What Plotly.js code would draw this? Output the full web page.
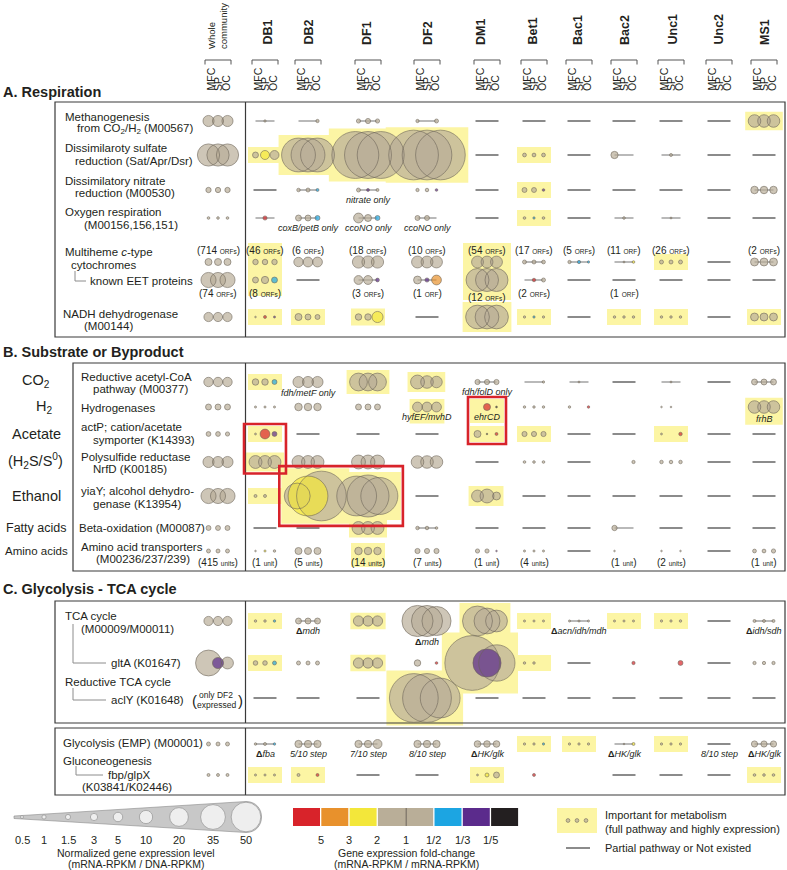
<!DOCTYPE html>
<html><head><meta charset="utf-8">
<script src="https://cdn.plot.ly/plotly-3.0.1.min.js"></script>
<style>html,body{margin:0;padding:0;background:#fff}</style>
</head><body><div id="chart" style="width:787px;height:870px"></div>
<script>
// ================= DATA =================
const groups = ['Whole community','DB1','DB2','DF1','DF2','DM1','Bet1','Bac1','Bac2','Unc1','Unc2','MS1'];
const samples = ['MFC','SP','OC'];
const G = 'ggg';
// values = normalized expression level (mRNA-RPKM / DNA-RPKM) for MFC, SP, OC
// colors: g=1 (no change), y=2, o=3, r=5, c=1/2, p=1/3, k=1/5
// kind: d=dots, c=dots on partial-pathway line, l=partial pathway / not existed, .=blank
// hl: 1=important (yellow), b=important incl. label below, s=important spanning next row
const methV=[[7,7,7],[0,0.3,0],[0,0,0.6],[1,1.5,1],[0.6,0,0.9],[0,0,0],[0,0,0],[0,0,0],[0,0,0],[0,0,0],[0,0,0],[9,9,9]];
const methC=[G,G,G,G,G,G,G,G,G,G,G,G];
const methK='dcccclllllld', methH='000000000001';

const sulfV=[[28,28,28],[2,4.6,4.6],[65,65,65],[125,125,125],[140,140,140],[0,0,0],[0.8,0.8,0.8],[0,0,0],[3,0,0],[0,0.5,0],[0,0,0],[0,0,0]];
const sulfC=[G,'gyg',G,G,G,G,G,G,G,G,G,G];
const sulfK='dddddldlccll', sulfH='011110100000';

const nitrV=[[1.6,1.6,1.6],[0,0,0],[0.7,0.9,0.5],[0.9,0.5,0.5],[0.6,0.7,0.4],[0,0,0],[1.4,1.4,0.4],[0,0,0],[0,0,0],[0,0,0],[0,0,0],[3.2,3.2,3.2]];
const nitrC=[G,G,'ggc','gpg','ggp',G,'ggp',G,G,G,G,G];
const nitrK='dlccdldllllc', nitrH='000000100000';
const nitrN=['','','','nitrate only','','','','','','','',''];

const oxyV=[[0.4,0.4,0.4],[0,1,0],[2,2,1.4],[5.5,2.8,1.4],[1.4,1.4,0],[0,0,0],[0.4,0.3,0.4],[0,0,0],[0,0.4,0],[0,0.2,0],[0,0,0],[0,0,0]];
const oxyC=[G,'grg','ggc','ggc',G,G,'gcg',G,G,G,G,G];
const oxyK='dccccldlccll', oxyH='000000100000';
const oxyN=['','','coxB/petB only','ccoNO only','ccoNO only','','','','','','',''];

const mhV=[[2.8,2.8,2.8],[1.7,1.7,1.7],[5,5.5,5.5],[8.5,8.5,8.5],[8,8,8],[8,8,8],[0.9,0.9,0.8],[0.6,0.6,0.3],[0,0.2,0.4],[0.9,0.9,0.9],[0,0,0],[3.6,3.6,3.6]];
const mhC=[G,G,G,G,G,G,G,'gcc','ggy',G,G,G];
const mhK='ddddddcccdlc', mhH='0s000s000100';
const mhOrfs=[714,46,6,18,10,54,17,5,11,26,null,2];
const mhOrfUnit=['ORFs','ORFs','ORFs','ORFs','ORFs','ORFs','ORFs','ORFs','ORF','ORFs','','ORFs'];

const eetV=[[13,13,13],[2,3,2],[0,0,0],[4.5,4.5,0.8],[3.5,1,5.5],[30,30,30],[0,0.7,0.9],[0,0,0],[0,0,0],[0,0,0],[0,0,0],[0,0,0]];
const eetC=[G,'ggc',G,'ggp','gpo',G,'grg',G,G,G,G,G];
const eetK='ddlccdclllll', eetH='000000000000';
const eetOrfs=[74,8,null,3,1,12,2,null,1,null,null,null];
const eetOrfUnit=['ORFs','ORFs','','ORFs','ORF','ORFs','ORFs','','ORF','','',''];

const nadhV=[[4.8,4.8,4.8],[0.15,0.5,0.25],[2.8,2,1.4],[2.4,2.4,7],[0,0,0],[32,32,32],[0.3,0.3,0.3],[0,0,0],[0.35,0.35,0.35],[0.35,0.35,0.35],[0,0,0],[3.6,3.6,3.6]];
const nadhC=[G,'grp',G,'ggy',G,G,'gcg',G,G,G,G,G];
const nadhK='ddddlddlddld', nadhH='011101101101';

const acoV=[[5,5,5],[2.4,2.4,1.4],[7,7,7],[18,18,18],[11,9,7.5],[1.5,1.5,1.5],[0,0,0.3],[0,0.2,0],[0,0,0],[0,0.2,0],[0,0,0],[2,2,2]];
const acoC=[G,'ggc',G,G,G,G,G,G,G,G,G,G];
const acoK='dddddccclclc', acoH='010110000000';
const acoN=['','','fdh/metF only','','','fdh/folD only','','','','','',''];

const h2V=[[2,2,2],[0.25,0.25,0.25],[3.2,3.2,3.2],[2,2,2],[5.5,5.5,5.5],[0,2.8,0.2],[0.35,0.35,0.35],[0.35,0,0.35],[0,0,0],[0.15,0.15,0],[0,0,0],[9,9,9]];
const h2C=[G,G,G,G,G,'grk',G,'ggr',G,G,G,G];
const h2K='dddddddd.d.d', h2H='0000bb00000b';
const h2N=['','','','','hyfEF/mvhD','ehrCD','','','','','','frhB'];

const actV=[[1.3,1.3,1],[0.2,5.5,1.4],[0,0,0],[0,0,0],[0,0,0],[2.8,0.15,0.5],[1.5,1.5,1.5],[0,0,0],[0,0,0],[0.2,0,0.7],[0,0,0],[0,0,0]];
const actC=[G,'grp',G,G,G,'gkr',G,G,G,'ggr',G,G];
const actK='ddlllddlldll', actH='010001100100';

const psV=[[7,7,7],[9.5,9.5,9.5],[9.5,9.5,9.5],[11,11,11],[9,9,9],[0,0,0],[0.4,0.4,0.4],[0,0,0],[0,0,0.6],[0.7,0.7,0.7],[0,0,0],[0,0,0]];
const psC=[G,G,G,G,G,G,G,G,G,G,G,G];
const psK='dddddldlddll', psH='010000000000';

const etV=[[13,13,13],[0.5,0.5,0],[38,90,140],[90,100,78],[0,0,0],[8,11,3.6],[0,0,0],[0,0,0],[0,0,0],[0,0,0],[0,0,0],[0,0,0]];
const etC=[G,G,'gyg',G,G,G,G,G,G,G,G,G];
const etK='ddddldllllll', etH='011101000000';

const boV=[[1.4,1.4,1.4],[0,0,0],[0,0,0],[9.5,9.5,9.5],[0.7,0.7,0.4],[0,0,0],[0,0,0],[0,0,0],[1.6,0,0],[0,0,0],[0,0,0],[0,0,0]];
const boC=[G,G,G,G,G,G,G,G,G,G,G,G];
const boK='dlldclllclll', boH='000100000000';

const aaV=[[0.9,0.9,0.9],[0.15,0.25,0.35],[2.8,2.8,2.8],[3.2,3.2,3.2],[1.5,1.5,1.5],[1,1,0.15],[0.25,0.25,0.25],[0,0,0],[0.15,0,0],[0.15,0,0.15],[0,0,0],[0.8,0.8,1]];
const aaC=[G,'gyg',G,G,G,'ggp',G,G,G,G,G,G];
const aaK='dddddddlddld', aaH='000b00000000';
const aaUnits=[415,1,5,14,7,1,4,null,1,2,null,1];

const tcaV=[[4.8,4.8,4.8],[0.35,0.35,0.35],[2,2,2],[6,6,6],[55,55,48],[51,38,27],[0.25,0.25,0.25],[0.25,0.25,0.25],[0.25,0.25,0.25],[0.3,0.3,0.35],[0,0,0],[0.5,0.5,0.5]];
const tcaC=[G,'ggc',G,G,G,G,G,G,G,G,G,G];
const tcaK='ddcddddcddlc', tcaH='010101101100';
const tcaN=['','','Δmdh','','Δmdh','','','Δacn/idh/mdh','','','','Δidh/sdh'];

const gltV=[[38,7,8],[1.2,1.2,0.9],[0.9,0.9,0.9],[6,6,6],[2.4,0,0.4],[170,45,75],[0.35,0.35,0],[0,0,0],[0,0,0.6],[0,0,1.4],[0,0,0],[0.6,0.6,0.6]];
const gltC=['gpg','ggc',G,G,'ggr','gpg',G,G,'ggr','ggr',G,G];
const gltK='dddddddlddld', gltH='010101100000';

const aclV=[[0,0,0],[0,0,0],[0,0,0],[0,0,0],[135,135,90],[0,0,0],[0,0,0],[0,0,0],[0,0,0],[0,0,0],[0,0,0],[0,0,0]];
const aclC=[G,G,G,G,G,G,G,G,G,G,G,G];
const aclK='.llldlllllll', aclH='000010000000';

const glyV=[[0.9,0.9,0.9],[0.35,0.5,0.35],[3,3,3],[3,3,4.6],[3,3,3],[2.5,2.5,2.5],[0.3,0.3,0.3],[0.3,0.3,0.3],[0,0.15,0.5],[0.3,0.3,0.3],[0,0,0],[2.2,2.2,2.2]];
const glyC=[G,'ggc',G,G,G,G,'ggc',G,'ggy',G,G,G];
const glyK='dcccccddcdlc', glyH='000000110100';
const glyN=['','Δfba','5/10 step','7/10 step','8/10 step','ΔHK/glk','','','ΔHK/glk','','8/10 step','ΔHK/glk'];

const fbpV=[[0.5,0.5,0.5],[0.25,0.25,0.25],[0.5,0,0.5],[0,0,0],[0,0,0],[0.2,0.9,2],[0,0.5,0],[0,0,0],[0,0,0],[0,0,0],[0,0,0],[0.4,0.4,0.4]];
const fbpC=[G,G,'ggr',G,G,'gyg','grg',G,G,G,G,G];
const fbpK='dddlldd.llld', fbpH='011001000001';

// red boxes: [rows], [first col, last col]
const redBoxRows=[['act','ps'],['h2','act'],['et','et']];
const redBoxCols=[[1,1],[5,5],[2,3]];

// legends
const levelTicks=[0.5,1,1.5,3,5,10,20,35,50];
const foldLabels=['5','3','2','1','1/2','1/3','1/5'];
const foldColors=['r','o','y','g','g','c','p','k'];

// ================= LAYOUT CONSTANTS =================
const COL_X=[218,265,308,368,427,487,534,579,624,671,719,764];
const HDR_X=[217,267,308,367,428,481,532,578,625,672,718,765];
const ROW_Y={meth:121,sulf:155,nitr:190,oxy:218,mh:262,eet:280,nadh:317,aco:382,h2:407,act:434,ps:462,et:496,bo:528,aa:551,tca:621,glt:663,acl:698,gly:744,fbp:775};
const LEVEL_X=[22,44,68,94,118,146,179,213,246];
const FILL={g:'#b9ae98',y:'#f3e73a',r:'#d8232a',o:'#e8912c',c:'#1ca5e2',p:'#5b2b8c',k:'#231f20'};
const HL='#fcf5a4', OUT='#6a6257', TXT='#231f20';
const FONT='Liberation Sans, Arial, Helvetica, sans-serif';

const ROWS=[
 {id:'meth',v:methV,c:methC,k:methK,h:methH},
 {id:'sulf',v:sulfV,c:sulfC,k:sulfK,h:sulfH},
 {id:'nitr',v:nitrV,c:nitrC,k:nitrK,h:nitrH,n:nitrN},
 {id:'oxy',v:oxyV,c:oxyC,k:oxyK,h:oxyH,n:oxyN},
 {id:'mh',v:mhV,c:mhC,k:mhK,h:mhH,next:'eet'},
 {id:'eet',v:eetV,c:eetC,k:eetK,h:eetH},
 {id:'nadh',v:nadhV,c:nadhC,k:nadhK,h:nadhH},
 {id:'aco',v:acoV,c:acoC,k:acoK,h:acoH,n:acoN},
 {id:'h2',v:h2V,c:h2C,k:h2K,h:h2H,n:h2N},
 {id:'act',v:actV,c:actC,k:actK,h:actH},
 {id:'ps',v:psV,c:psC,k:psK,h:psH},
 {id:'et',v:etV,c:etC,k:etK,h:etH},
 {id:'bo',v:boV,c:boC,k:boK,h:boH},
 {id:'aa',v:aaV,c:aaC,k:aaK,h:aaH},
 {id:'tca',v:tcaV,c:tcaC,k:tcaK,h:tcaH,n:tcaN},
 {id:'glt',v:gltV,c:gltC,k:gltK,h:gltH},
 {id:'acl',v:aclV,c:aclC,k:aclK,h:aclH},
 {id:'gly',v:glyV,c:glyC,k:glyK,h:glyH,n:glyN},
 {id:'fbp',v:fbpV,c:fbpC,k:fbpK,h:fbpH}
];
const rowById={}; ROWS.forEach(r=>rowById[r.id]=r);

function diam(v){return v>0?4.2*Math.sqrt(v):0;}
function cellGeom(v,X){
  const d=v.map(diam);
  const g01=Math.max(9.5,0.27*Math.max(d[0],d[1]));
  const g12=Math.max(9.5,0.27*Math.max(d[1],d[2]));
  return {xs:[X-g01,X,X+g12],d};
}
function cellBox(r,i){
  const y=ROW_Y[r.id],X=COL_X[i];
  const {xs,d}=cellGeom(r.v[i],X);
  let x0=Infinity,x1=-Infinity,md=0;
  for(let j=0;j<3;j++){if(d[j]>0){x0=Math.min(x0,xs[j]-d[j]/2);x1=Math.max(x1,xs[j]+d[j]/2);md=Math.max(md,d[j]);}}
  if(r.k[i]==='c'){x0=Math.min(x0,xs[0]);x1=Math.max(x1,xs[2]);}
  if(!isFinite(x0)){x0=X;x1=X;}
  return {x0,x1,md,y,X};
}
function labOff(md,min){return Math.max(min,md/2+5.5);}
function fmtNote(s){if(!s)return '';if(s[0]==='Δ')return '<b>Δ</b><i>'+s.slice(1)+'</i>';return '<i>'+s+'</i>';}

const shapes=[],ann=[];
const dashX=[],dashY=[],conX=[],conY=[];
const gX=[],gY=[],gS=[],kX=[],kY=[],kS=[],kC=[],oX=[],oY=[],oS=[];
const hlRect={};

function addText(text,x,y,size,opts){
  ann.push(Object.assign({text:text,x:x,y:y,xref:'x',yref:'y',showarrow:false,xanchor:'left',yanchor:'middle',
    font:{family:FONT,size:size,color:TXT}},opts||{}));
}

// ---- cells ----
ROWS.forEach(r=>{
  const y=ROW_Y[r.id];
  for(let i=0;i<12;i++){
    const k=r.k[i],X=COL_X[i];
    if(k==='.')continue;
    if(k==='l'){dashX.push(X-11.5,X+11.5,null);dashY.push(y,y,null);}
    else{
      const {xs,d}=cellGeom(r.v[i],X);
      if(k==='c'){conX.push(xs[0],xs[2],null);conY.push(y,y,null);}
      for(let j=0;j<3;j++){
        if(d[j]<=0)continue;
        const col=r.c[i][j];
        if(col==='g'){gX.push(xs[j]);gY.push(y);gS.push(d[j]);}
        else{kX.push(xs[j]);kY.push(y);kS.push(d[j]);kC.push(FILL[col]);}
        oX.push(xs[j]);oY.push(y);oS.push(d[j]);
      }
    }
    if(r.n&&r.n[i]){const b=cellBox(r,i);addText(fmtNote(r.n[i]),X,y+labOff(b.md,10),9,{xanchor:'center'});}
    const h=r.h[i];
    if(h!=='0'){
      const b=cellBox(r,i);
      let x0=b.x0-3,x1=b.x1+3;
      if(x1-x0<34){x0=X-17;x1=X+17;}
      const hh=Math.max(b.md/2+3,8);
      let y0=y-hh,y1=y+hh;
      if(h==='b'){y1=y+labOff(b.md,10)+6;}
      if(h==='s'){
        const nr=rowById[r.next],b2=cellBox(nr,i);
        x0=Math.min(x0,b2.x0-3);x1=Math.max(x1,b2.x1+3);
        y0=y-labOff(b.md,12)-7;
        y1=ROW_Y[nr.id]+labOff(b2.md,13)+3;
      }
      hlRect[r.id+'|'+i]={x0,x1,y0,y1};
      shapes.push({type:'rect',xref:'x',yref:'y',x0,x1,y0,y1,fillcolor:HL,line:{width:0},layer:'below'});
    }
  }
});

// ORF / unit labels
function countLabel(n,u){return '('+n+' <span style="font-size:6.5px">'+u+'</span>)';}
for(let i=0;i<12;i++){
  if(mhOrfs[i]!=null){const b=cellBox(rowById.mh,i);addText(countLabel(mhOrfs[i],mhOrfUnit[i]),COL_X[i],ROW_Y.mh-labOff(b.md,12),10,{xanchor:'center'});}
  if(eetOrfs[i]!=null){const b=cellBox(rowById.eet,i);addText(countLabel(eetOrfs[i],eetOrfUnit[i]),COL_X[i],ROW_Y.eet+labOff(b.md,13),10,{xanchor:'center'});}
  if(aaUnits[i]!=null){addText(countLabel(aaUnits[i],aaUnits[i]===1?'unit':'units'),COL_X[i],ROW_Y.aa+11,10,{xanchor:'center'});}
}

// red boxes
redBoxRows.forEach((rr,bi)=>{
  let x0=Infinity,x1=-Infinity,y0=Infinity,y1=-Infinity;
  rr.forEach(rid=>{for(let c=redBoxCols[bi][0];c<=redBoxCols[bi][1];c++){const h=hlRect[rid+'|'+c];if(h){x0=Math.min(x0,h.x0);x1=Math.max(x1,h.x1);y0=Math.min(y0,h.y0);y1=Math.max(y1,h.y1);}}});
  shapes.push({type:'rect',xref:'x',yref:'y',x0:x0-2,x1:x1+2,y0:y0-2,y1:y1+2,line:{color:'#d8232a',width:2.6},fillcolor:'rgba(0,0,0,0)',layer:'above'});
});

// ---- frames ----
function rect(x0,y0,x1,y1){shapes.push({type:'rect',xref:'x',yref:'y',x0,y0,x1,y1,line:{color:'#3a3a3a',width:1.2},fillcolor:'rgba(0,0,0,0)',layer:'below'});}
function vline(x,y0,y1){shapes.push({type:'line',xref:'x',yref:'y',x0:x,x1:x,y0,y1,line:{color:'#3a3a3a',width:1.2},layer:'below'});}
rect(55,102,785,337);vline(245.5,102,337);
rect(73,363,785,571);vline(245.5,363,571);
rect(55,601,785,723);vline(245.5,601,723);
rect(55,728,785,795);vline(245.5,728,795);

function tree(x,y0,y1,x2){shapes.push({type:'path',xref:'x',yref:'y',path:`M ${x} ${y0} L ${x} ${y1} L ${x2} ${y1}`,line:{color:'#8c8c8c',width:1}});}
tree(75,271,281,86);tree(73,624,663,106);tree(73,688,700,106);tree(76,766,775,103);

// ---- headers ----
groups.forEach((g,i)=>{
  const X=HDR_X[i];
  if(i===0){
    ann.push({text:'Whole<br>community',x:X,y:51,xref:'x',yref:'y',showarrow:false,textangle:-90,xanchor:'center',yanchor:'bottom',align:'left',font:{family:FONT,size:9.5,color:TXT}});
  } else {
    ann.push({text:g,x:X,y:47,xref:'x',yref:'y',showarrow:false,textangle:-90,xanchor:'center',yanchor:'bottom',font:{family:FONT,size:12.5,color:TXT,weight:'bold'}});
  }
  const cx=COL_X[i];
  shapes.push({type:'path',xref:'x',yref:'y',path:`M ${cx-13} 64.5 L ${cx-13} 60 L ${cx+13} 60 L ${cx+13} 64.5`,line:{color:'#555',width:1}});
  samples.forEach((s,j)=>{
    ann.push({text:s,x:cx+(j-1)*8,y:93,xref:'x',yref:'y',showarrow:false,textangle:-90,xanchor:'center',yanchor:'bottom',font:{family:FONT,size:10.5,color:TXT}});
  });
});

// section titles
addText('A. Respiration',1,92,14.5,{font:{family:FONT,size:14.5,color:TXT,weight:'bold'}});
addText('B. Substrate or Byproduct',1,352,14.5,{font:{family:FONT,size:14.5,color:TXT,weight:'bold'}});
addText('C. Glycolysis - TCA cycle',1,589,14.5,{font:{family:FONT,size:14.5,color:TXT,weight:'bold'}});

// row labels
const L=11.5;
[['Methanogenesis',63,117],['from CO<sub>2</sub>/H<sub>2</sub> (M00567)',75,129],
 ['Dissimilaroty sulfate',63,148],['reduction (Sat/Apr/Dsr)',73,161],
 ['Dissimilatory nitrate',63,181],['reduction (M00530)',73,193],
 ['Oxygen respiration',63,212],['(M00156,156,151)',82,225],
 ['Multiheme <i>c</i>-type',63,252],['cytochromes',69,265],
 ['known EET proteins',88,281],
 ['NADH dehydrogenase',61,314],['(M00144)',82,326],
 ['Reductive acetyl-CoA',79,377],['pathway (M00377)',91,389],
 ['Hydrogenases',79,408],
 ['actP; cation/acetate',79,427],['symporter (K14393)',91,440],
 ['Polysulfide reductase',79,457],['NrfD (K00185)',91,469],
 ['yiaY; alcohol dehydro-',79,491],['genase (K13954)',91,504],
 ['Beta-oxidation (M00087)',77,528],
 ['Amino acid transporters',79,547],['(M00236/237/239)',94,559],
 ['TCA cycle',63,616],['(M00009/M00011)',79,629],
 ['gltA (K01647)',109,663],
 ['Reductive TCA cycle',63,682],
 ['aclY (K01648)',109,700],
 ['Glycolysis (EMP) (M00001)',61,743],
 ['Gluconeogenesis',61,761],
 ['fbp/glpX',106,775],['(K03841/K02446)',80,787]
].forEach(t=>addText(t[0],t[1],t[2],L));

[['CO<sub>2</sub>',36,381,14.5],['H<sub>2</sub>',44,407,14.5],['Acetate',36,434,14.5],['(H<sub>2</sub>S/S<sup>0</sup>)',35,461,14.5],
 ['Ethanol',36,496,14.5],['Fatty acids',36,528,12.5],['Amino acids',36,551,11.5]
].forEach(t=>addText(t[0],t[1],t[2],t[3],{xanchor:'center'}));

addText('(',194,700,15,{xanchor:'center'});
addText(')',240,700,15,{xanchor:'center'});
addText('only DF2',216,695,8.5,{xanchor:'center'});
addText('expressed',216,705,8.5,{xanchor:'center'});

// ---- legend ----
shapes.push({type:'path',xref:'x',yref:'y',path:'M 14 816 L 246 801.5 C 266.7 801.5, 266.7 832.5, 246 832.5 L 14 818.5 Z',fillcolor:'#c8c8c8',line:{color:'#8a8a8a',width:0.6},layer:'below'});
levelTicks.forEach((v,i)=>addText(String(v),LEVEL_X[i],840,11,{xanchor:'center'}));
addText('Normalized gene expression level',136,853,10.5,{xanchor:'center'});
addText('(mRNA-RPKM / DNA-RPKM)',136,864,10.5,{xanchor:'center'});

const bx0=[];
foldColors.forEach((c,i)=>{
  const x0=293+28.3*i;bx0.push(x0);
  shapes.push({type:'rect',xref:'x',yref:'y',x0:x0,x1:x0+(i===3?28.3:27),y0:808,y1:826,fillcolor:FILL[c],line:{width:0}});
});
shapes.push({type:'line',xref:'x',yref:'y',x0:bx0[4],x1:bx0[4],y0:808,y1:826,line:{color:'#6a6257',width:1}});
foldLabels.forEach((t,i)=>addText(t,(bx0[i]+27+bx0[i+1])/2,840,11,{xanchor:'center'}));
addText('Gene expression fold-change',406,853,10.5,{xanchor:'center'});
addText('(mRNA-RPKM / mRNA-RPKM)',406,864,10.5,{xanchor:'center'});

shapes.push({type:'rect',xref:'x',yref:'y',x0:557,x1:597,y0:808,y1:833,fillcolor:HL,line:{width:0},layer:'below'});
addText('Important for metabolism',603,815,11);
addText('(full pathway and highly expression)',603,829,11);
addText('Partial pathway or Not existed',603,848,11);
dashX.push(566,590,null);dashY.push(848,848,null);
[568,577,586].forEach(x=>{gX.push(x);gY.push(820.5);gS.push(diam(0.8));oX.push(x);oY.push(820.5);oS.push(diam(0.8));});

// ---- traces ----
const traces=[
 {x:dashX,y:dashY,mode:'lines',line:{color:'#5a5a5a',width:1.4},hoverinfo:'skip',type:'scatter'},
 {x:conX,y:conY,mode:'lines',line:{color:'#808080',width:1.1},hoverinfo:'skip',type:'scatter'},
 {x:gX,y:gY,mode:'markers',marker:{size:gS,color:FILL.g,line:{width:0}},hoverinfo:'skip',type:'scatter'},
 {x:kX,y:kY,mode:'markers',marker:{size:kS,color:kC,line:{width:0}},hoverinfo:'skip',type:'scatter'},
 {x:oX,y:oY,mode:'markers',marker:{size:oS,color:'rgba(0,0,0,0)',line:{color:OUT,width:0.8}},hoverinfo:'skip',type:'scatter'},
 {x:LEVEL_X,y:LEVEL_X.map(()=>817),mode:'markers',marker:{size:levelTicks.map(diam),color:'#ffffff',line:{color:'#8a8a8a',width:0.8}},hoverinfo:'skip',type:'scatter'}
];

const layout={width:787,height:870,margin:{l:0,r:0,t:0,b:0,pad:0},showlegend:false,
  paper_bgcolor:'#fff',plot_bgcolor:'#fff',
  xaxis:{range:[0,787],visible:false,fixedrange:true},
  yaxis:{range:[870,0],visible:false,fixedrange:true},
  shapes:shapes,annotations:ann,font:{family:FONT,color:TXT}};
Plotly.newPlot('chart',traces,layout,{staticPlot:true,displayModeBar:false});
</script></body></html>
